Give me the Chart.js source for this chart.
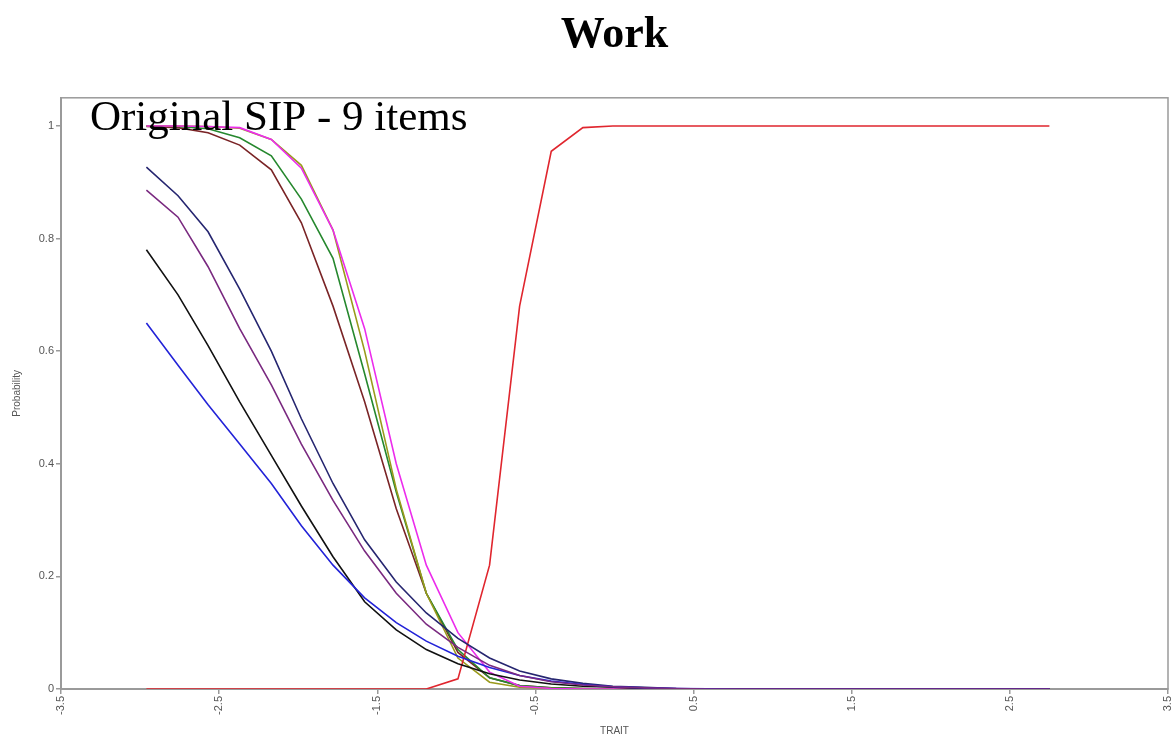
<!DOCTYPE html>
<html>
<head>
<meta charset="utf-8">
<title>Work</title>
<script src="https://cdn.jsdelivr.net/npm/chart.js@4.4.0/dist/chart.umd.min.js"></script>
<style>
  html, body { margin: 0; padding: 0; background: #fff; }
</style>
</head>
<body>
<canvas id="iccChart" width="1176" height="743"></canvas>
<script>
// trait grid and item curves
const trait = [-2.96, -2.76, -2.57, -2.37, -2.17, -1.98, -1.78, -1.58, -1.38, -1.19,
               -0.99, -0.79, -0.60, -0.40, -0.20, -0.01, 0.19, 0.39, 0.59, 0.78,
               0.98, 1.18, 1.37, 1.57, 1.77, 1.97, 2.16, 2.36, 2.56, 2.75];
const xTicks = [-3.5, -2.5, -1.5, -0.5, 0.5, 1.5, 2.5, 3.5];
const yTicks = [0, 0.2, 0.4, 0.6, 0.8, 1];

const itemPurple  = [0.886, 0.838, 0.75, 0.64, 0.54, 0.435, 0.335, 0.245, 0.17, 0.115, 0.074, 0.042, 0.024, 0.013, 0.007, 0.004, 0.002, 0.001, 0, 0, 0, 0, 0, 0, 0, 0, 0, 0, 0, 0];
const itemBlue    = [0.65, 0.575, 0.505, 0.435, 0.365, 0.29, 0.22, 0.162, 0.118, 0.085, 0.058, 0.038, 0.024, 0.014, 0.008, 0.004, 0.002, 0.001, 0.0005, 0, 0, 0, 0, 0, 0, 0, 0, 0, 0, 0];
const itemBlack   = [0.78, 0.70, 0.61, 0.51, 0.415, 0.325, 0.235, 0.155, 0.105, 0.07, 0.045, 0.027, 0.016, 0.009, 0.005, 0.003, 0.001, 0.0005, 0, 0, 0, 0, 0, 0, 0, 0, 0, 0, 0, 0];
const itemNavy    = [0.927, 0.876, 0.812, 0.71, 0.60, 0.48, 0.365, 0.265, 0.19, 0.135, 0.09, 0.055, 0.032, 0.018, 0.01, 0.005, 0.003, 0.001, 0.0005, 0, 0, 0, 0, 0, 0, 0, 0, 0, 0, 0];
const itemMagenta = [1.0, 1.0, 0.999, 0.997, 0.976, 0.925, 0.815, 0.64, 0.40, 0.22, 0.10, 0.03, 0.005, 0.001, 0, 0, 0, 0, 0, 0, 0, 0, 0, 0, 0, 0, 0, 0, 0, 0];
const itemOlive   = [1.0, 1.0, 0.999, 0.996, 0.976, 0.93, 0.815, 0.60, 0.355, 0.17, 0.055, 0.012, 0.003, 0.001, 0, 0, 0, 0, 0, 0, 0, 0, 0, 0, 0, 0, 0, 0, 0, 0];
const itemGreen   = [1.0, 0.999, 0.995, 0.979, 0.947, 0.87, 0.765, 0.56, 0.35, 0.17, 0.07, 0.02, 0.006, 0.002, 0.001, 0, 0, 0, 0, 0, 0, 0, 0, 0, 0, 0, 0, 0, 0, 0];
const itemMaroon  = [0.999, 0.997, 0.988, 0.966, 0.922, 0.828, 0.68, 0.51, 0.32, 0.17, 0.065, 0.02, 0.006, 0.002, 0.001, 0, 0, 0, 0, 0, 0, 0, 0, 0, 0, 0, 0, 0, 0, 0];
const itemRed     = [0, 0, 0, 0, 0, 0, 0, 0, 0, 0, 0.018, 0.22, 0.68, 0.955, 0.997, 1, 1, 1, 1, 1, 1, 1, 1, 1, 1, 1, 1, 1, 1, 1];

// first one ends up on top
const curves = [
  [itemPurple, '#7a2a80'],
  [itemBlue, '#2323d8'],
  [itemBlack, '#111111'],
  [itemNavy, '#262670'],
  [itemRed, '#e0262e'],
  [itemMagenta, '#ec2cec'],
  [itemOlive, '#9a9a1c'],
  [itemGreen, '#26882e'],
  [itemMaroon, '#7a2426']
];

const datasets = curves.map(([vals, col], i) => ({
  label: 'item ' + (i + 1),
  data: trait.map((x, k) => ({x: x, y: vals[k]})),
  borderColor: col,
  borderWidth: 1.6,
  pointRadius: 0,
  tension: 0,
  fill: false
}));

const frameAndCaption = {
  id: 'frameAndCaption',
  beforeDatasetsDraw(chart) {
    const a = chart.chartArea, ctx = chart.ctx;
    ctx.save();
    ctx.strokeStyle = '#9a9a9a';
    ctx.lineWidth = 1.5;
    ctx.strokeRect(a.left, a.top, a.right - a.left, a.bottom - a.top);
    ctx.restore();
  },
  afterDatasetsDraw(chart) {
    const ctx = chart.ctx;
    ctx.save();
    ctx.fillStyle = '#000';
    ctx.font = '43px "Liberation Serif", "Times New Roman", serif';
    ctx.textBaseline = 'alphabetic';
    ctx.textAlign = 'left';
    ctx.fillText('Original SIP - 9 items', 90, 130);
    ctx.restore();
  }
};

new Chart(document.getElementById('iccChart'), {
  type: 'line',
  data: { datasets: datasets },
  plugins: [frameAndCaption],
  options: {
    responsive: false,
    animation: false,
    layout: { padding: { left: 0, right: 0, top: 0, bottom: 0 } },
    plugins: {
      legend: { display: false },
      tooltip: { enabled: false },
      title: {
        display: true,
        text: 'Work',
        fullSize: false,
        color: '#000',
        font: { family: '"Liberation Serif", "Times New Roman", serif', size: 44, weight: 'bold' },
        padding: { top: 9, bottom: 36 }
      }
    },
    scales: {
      x: {
        type: 'linear',
        min: -3.5,
        max: 3.5,
        afterBuildTicks: s => { s.ticks = xTicks.map(v => ({value: v})); },
        afterFit: s => { s.height = 54; s.paddingRight = 8; s.paddingLeft = 0; },
        ticks: {
          minRotation: 90, maxRotation: 90,
          color: '#555', padding: 2,
          font: { family: '"Liberation Sans", Arial, sans-serif', size: 11 },
          callback: v => String(v)
        },
        grid: { drawOnChartArea: false, tickLength: 5, color: '#9a9a9a', lineWidth: 1.5 },
        border: { color: '#9a9a9a', width: 2 },
        title: {
          display: true, text: 'TRAIT', color: '#555',
          font: { family: '"Liberation Sans", Arial, sans-serif', size: 10 },
          padding: { top: 0, bottom: 6 }
        }
      },
      y: {
        min: 0,
        max: 1.05,
        afterBuildTicks: s => { s.ticks = yTicks.map(v => ({value: v})); },
        afterFit: s => { s.width = 61; },
        ticks: {
          color: '#555', padding: 2,
          font: { family: '"Liberation Sans", Arial, sans-serif', size: 11 },
          callback: v => String(v)
        },
        grid: { drawOnChartArea: false, tickLength: 5, color: '#9a9a9a', lineWidth: 1.5 },
        border: { color: '#9a9a9a', width: 2 },
        title: {
          display: true, text: 'Probability', color: '#555',
          font: { family: '"Liberation Sans", Arial, sans-serif', size: 10 },
          padding: { top: 11, bottom: 0 }
        }
      }
    }
  }
});
</script>
</body>
</html>
